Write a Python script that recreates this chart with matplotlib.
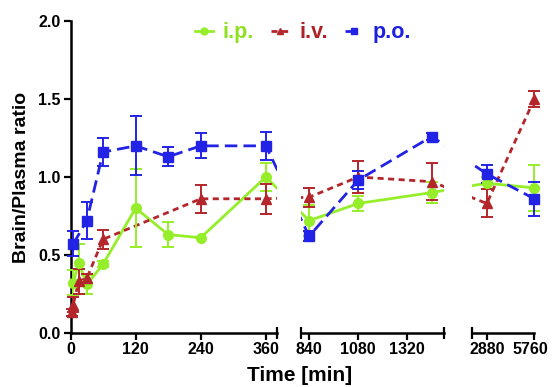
import matplotlib

matplotlib.use("Agg")
import matplotlib.pyplot as plt
from matplotlib.lines import Line2D
from matplotlib.transforms import ScaledTranslation
import numpy as np

plt.rcParams["font.family"] = ["Liberation Sans", "DejaVu Sans"]
plt.rcParams["font.weight"] = "bold"

# data (time in min, brain/plasma ratio, +/- error)
ip_time = [5, 15, 30, 60, 120, 180, 240, 360, 840, 1080, 1440, 2880, 5760]
ip_val = [0.32, 0.45, 0.31, 0.44, 0.80, 0.63, 0.61, 1.00, 0.72, 0.83, 0.90, 0.96, 0.93]
ip_err = [0.08, 0.12, 0.06, 0.02, 0.25, 0.08, 0.0, 0.09, 0.10, 0.05, 0.07, 0.04, 0.15]

iv_time = [2, 5, 15, 30, 60, 240, 360, 840, 1080, 1440, 2880, 5760]
iv_val = [0.13, 0.18, 0.33, 0.35, 0.60, 0.86, 0.86, 0.87, 1.00, 0.97, 0.83, 1.50]
iv_err = [0.02, 0.05, 0.08, 0.03, 0.06, 0.09, 0.095, 0.06, 0.10, 0.12, 0.09, 0.05]

po_time = [5, 30, 60, 120, 180, 240, 360, 840, 1080, 1440, 2880, 5760]
po_val = [0.57, 0.72, 1.16, 1.20, 1.13, 1.20, 1.20, 0.62, 0.98, 1.26, 1.02, 0.86]
po_err = [0.08, 0.12, 0.09, 0.19, 0.06, 0.08, 0.09, 0.03, 0.06, 0.02, 0.06, 0.11]

# broken x axis segments
seg_limits = [(0, 380), (800, 1500), (2000, 5760)]
seg_ticks = [[0, 120, 240, 360], [840, 1080, 1320], [2880, 5760]]
seg_pos = [0.1273, 0.5433, 0.8525]
seg_width = [0.3722, 0.2581, 0.1120]

series = [
    ("i.p.", ip_time, ip_val, ip_err, "#96ee2a", "#8fe020", "-", "o", 7),
    ("i.v.", iv_time, iv_val, iv_err, "#b3262b", "#b02026", (0, (2.2, 1.6)), "^", 7),
    ("p.o.", po_time, po_val, po_err, "#2323e6", "#1f1fe0", (0, (4.5, 2.2)), "s", 6.5),
]

fig = plt.figure(figsize=(5.54, 3.87), dpi=100)
axes = []
for i, (lim, ticks) in enumerate(zip(seg_limits, seg_ticks)):
    ax = fig.add_axes([seg_pos[i], 0.1403, seg_width[i], 0.8047])
    ax.set_xlim(lim)
    ax.set_ylim(0, 2.0)
    ax.set_xticks(ticks)
    ax.set_xticklabels([str(t) for t in ticks], fontsize=11.5, fontweight="bold")
    ax.set_xticks(list(lim), minor=True)
    ax.tick_params(axis="x", which="major", direction="out", length=5, width=1.6, pad=2)
    ax.tick_params(axis="x", which="minor", direction="inout", length=9, width=1.6)
    for s in ["top", "right"]:
        ax.spines[s].set_visible(False)
    ax.spines["bottom"].set_linewidth(1.8)
    if i == 0:
        ax.spines["left"].set_linewidth(1.8)
        ax.set_yticks(np.arange(0, 2.01, 0.5))
        ax.set_yticklabels([f"{v:.1f}" for v in np.arange(0, 2.01, 0.5)],
                           fontsize=11.5, fontweight="bold")
        ax.tick_params(axis="y", direction="out", length=5, width=1.6, pad=2)
        ax.set_ylabel("Brain/Plasma ratio", fontsize=14, fontweight="bold", labelpad=6)
    else:
        ax.spines["left"].set_visible(False)
        ax.set_yticks([])
    ax.patch.set_alpha(0)
    axes.append(ax)

# last label sits a little left of its tick, as in the reference
last = axes[2].get_xticklabels()[-1]
last.set_transform(last.get_transform() + ScaledTranslation(-0.04, 0, fig.dpi_scale_trans))


def owner(t):
    for k, (a, b) in enumerate(seg_limits):
        if a <= t <= b:
            return k
    return 0


# points, error bars and connecting lines (drawn in screen space like Prism)
for label, t, v, e, col, tcol, ls, mk, ms in series:
    disp = np.array([axes[owner(tt)].transData.transform((tt, vv)) for tt, vv in zip(t, v)])
    for k, ax in enumerate(axes):
        pts = ax.transData.inverted().transform(disp)
        ax.plot(pts[:, 0], pts[:, 1], color=col, ls=ls, lw=2.0, zorder=2)
        idx = [j for j, tt in enumerate(t) if owner(tt) == k]
        ax.errorbar([t[j] for j in idx], [v[j] for j in idx], yerr=[e[j] for j in idx],
                    fmt=mk, color=col, ms=ms, capsize=4, elinewidth=1.4, capthick=1.4,
                    zorder=3, clip_on=False)

handles = [Line2D([], [], color=s[4], ls=s[6], lw=2.0, marker=s[7], ms=s[8] - 2)
           for s in series]
fig.legend(handles, [s[0] for s in series], loc="center", bbox_to_anchor=(0.547, 0.915),
           ncol=3, frameon=False, handlelength=0.85, handletextpad=0.45, columnspacing=0.8,
           labelcolor=[s[5] for s in series], prop={"weight": "bold", "size": 15.5})

fig.text(0.54, 0.03, "Time [min]", ha="center", va="center", fontsize=15, fontweight="bold")

fig.savefig("out.png", dpi=100, facecolor="white")
plt.close()
